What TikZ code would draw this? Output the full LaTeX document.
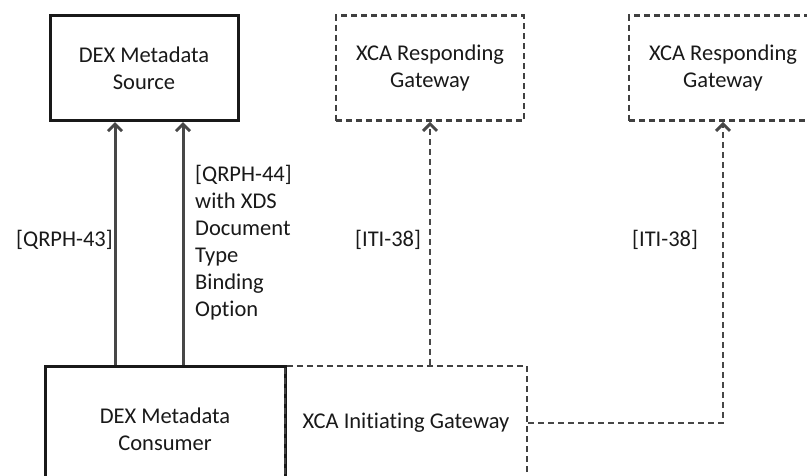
\documentclass[tikz,border=0pt]{standalone}
\usepackage{fontspec}
\setmainfont{Carlito}[Ligatures=NoCommon]
\usetikzlibrary{arrows.meta,calc}
\begin{document}
\begin{tikzpicture}[x=1pt,y=-1pt,
  every node/.style={font=\fontsize{22.5}{27}\selectfont, inner sep=0pt, text=black!90},
  solidbox/.style={draw=black!90, line width=3pt, rectangle, align=center},
  dashbox/.style={draw=black!75, line width=2.5pt, dash pattern=on 6pt off 4pt, rectangle, align=center},
  solidarrow/.style={draw=black!72, line width=3pt, -{Straight Barb[length=7pt,width=14pt,line width=3pt]}},
  dasharrow/.style={draw=black!72, line width=2.5pt, dash pattern=on 6pt off 4pt, -{Straight Barb[length=7pt,width=14pt,line width=3pt]}},
  lbl/.style={align=left}
]
\clip (0,0) rectangle (807,475);
\fill[white] (0,0) rectangle (807,475);

\node[solidbox, minimum width=188pt, minimum height=105pt] (src) at (144,68) {DEX Metadata\\Source};
\node[dashbox, minimum width=188pt, minimum height=105pt] (rg1) at (430,68) {XCA Responding\\Gateway};
\node[dashbox, minimum width=188pt, minimum height=105pt] (rg2) at (723,68) {XCA Responding\\Gateway};

\node[solidbox, minimum width=240pt, minimum height=126pt] (cons) at (165,429) {DEX Metadata\\Consumer};
\node[dashbox, minimum width=242pt, minimum height=114pt] (ig) at (406,423) {XCA Initiating Gateway};

\coordinate (a1) at ([xshift=-29pt]src.south);
\coordinate (a2) at ([xshift=39pt]src.south);
\draw[solidarrow] (a1 |- cons.north) -- (a1);
\draw[solidarrow] (a2 |- cons.north) -- (a2);

\draw[dasharrow] (rg1.south |- ig.north) -- (rg1.south);
\draw[dasharrow] (ig.east) -| (rg2.south);

\node[lbl, anchor=west] (l43) at (16,240) {[QRPH-43]};
\node[lbl, anchor=west] (l44) at (195,243) {[QRPH-44]\\with XDS\\Document\\Type\\Binding\\Option};
\node[lbl, anchor=west] (l38a) at (355,240) {[ITI-38]};
\node[lbl, anchor=west] (l38b) at (632,240) {[ITI-38]};
\end{tikzpicture}
\end{document}
